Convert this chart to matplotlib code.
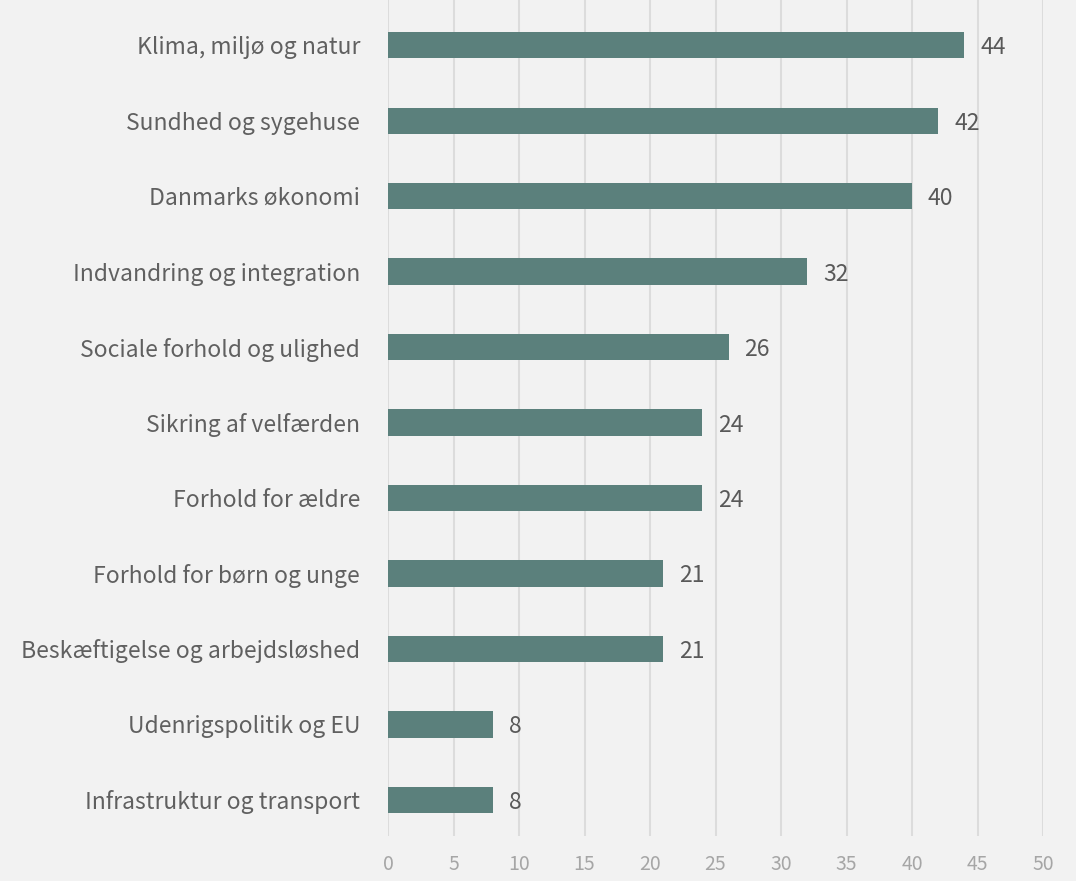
import matplotlib.pyplot as plt

kategorier = ['Klima, miljø og natur', 'Sundhed og sygehuse', 'Danmarks økonomi',
              'Indvandring og integration', 'Sociale forhold og ulighed',
              'Sikring af velfærden', 'Forhold for ældre', 'Forhold for børn og unge',
              'Beskæftigelse og arbejdsløshed', 'Udenrigspolitik og EU',
              'Infrastruktur og transport']
vaerdier = [44, 42, 40, 32, 26, 24, 24, 21, 21, 8, 8]
xticks = [0, 5, 10, 15, 20, 25, 30, 35, 40, 45, 50]

plt.rcParams['font.family'] = ['Noto Sans CJK SC', 'DejaVu Sans']
plt.rcParams['font.weight'] = 'light'

fig = plt.figure(figsize=(10.76, 8.81), dpi=100, facecolor='#f2f2f2')
ax = fig.add_axes([388 / 1076, 1 - 836 / 881, (1043 - 388) / 1076, 836 / 881])
ax.set_facecolor('#f2f2f2')

pos = list(range(len(kategorier)))
ax.barh(pos, vaerdier, height=0.35, color='#5b807c', zorder=3)
for p, v in zip(pos, vaerdier):
    ax.annotate(str(v), (v, p), xytext=(11.5, 0), textcoords='offset points',
                va='center_baseline', ha='left', fontsize=16.5, color='#595959')

ax.set_xlim(0, 50)
ax.set_ylim(10.48, -0.6)
ax.set_xticks(xticks)
ax.set_yticks(pos)
ax.set_yticklabels(kategorier, fontsize=16.5, color='#606060', va='center_baseline')
ax.tick_params(axis='x', length=0, labelsize=14, labelcolor='#a6a6a6', pad=13)
ax.tick_params(axis='y', length=0, pad=20)
ax.grid(axis='x', color='#dcdcdc', linewidth=1.5, zorder=0)
for s in ax.spines.values():
    s.set_visible(False)

fig.savefig('out.png', dpi=100, facecolor=fig.get_facecolor())
